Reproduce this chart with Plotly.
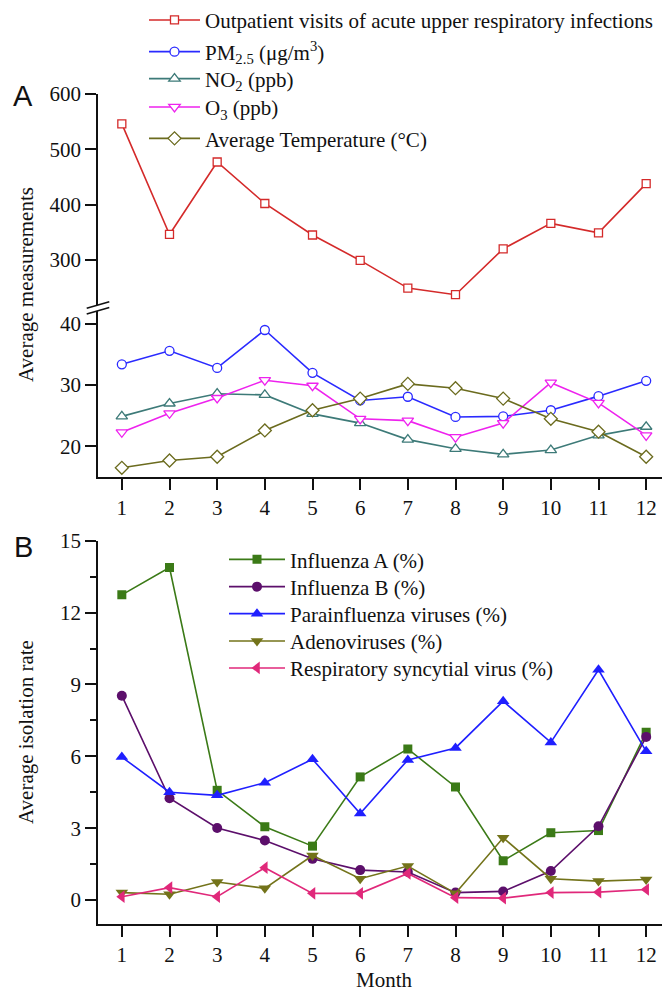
import plotly.graph_objects as go

months = list(range(1, 13))

# Panel A
outpatient = [546, 346, 477, 402, 345, 299, 249, 237, 320, 366, 349, 438]
pm25 = [33.4, 35.6, 32.8, 39.0, 32.0, 27.5, 28.1, 24.8, 24.9, 25.9, 28.2, 30.7]
no2 = [24.9, 27.0, 28.6, 28.4, 25.3, 23.8, 21.1, 19.6, 18.7, 19.4, 21.8, 23.2]
o3 = [22.3, 25.4, 27.9, 30.8, 29.9, 24.5, 24.2, 21.5, 23.8, 30.4, 27.1, 21.8]
temp = [16.5, 17.7, 18.3, 22.6, 25.9, 27.8, 30.2, 29.5, 27.8, 24.5, 22.4, 18.3]

# Panel B
flu_a = [12.74, 13.88, 4.58, 3.06, 2.25, 5.14, 6.31, 4.72, 1.64, 2.81, 2.90, 7.00]
flu_b = [8.53, 4.25, 3.01, 2.49, 1.72, 1.25, 1.17, 0.31, 0.36, 1.21, 3.08, 6.81]
para = [5.97, 4.50, 4.37, 4.90, 5.88, 3.61, 5.85, 6.35, 8.30, 6.58, 9.61, 6.21]
adeno = [0.31, 0.24, 0.75, 0.49, 1.86, 0.89, 1.42, 0.28, 2.60, 0.89, 0.79, 0.86]
rsv = [0.14, 0.52, 0.14, 1.35, 0.28, 0.28, 1.11, 0.10, 0.08, 0.31, 0.33, 0.44]

labels_a = ["Outpatient visits of acute upper respiratory infections",
            "PM<sub>2.5</sub> (μg/m<sup>3</sup>)",
            "NO<sub>2</sub> (ppb)",
            "O<sub>3</sub> (ppb)",
            "Average Temperature (°C)"]
labels_b = ["Influenza A (%)", "Influenza B (%)", "Parainfluenza viruses (%)",
            "Adenoviruses (%)", "Respiratory syncytial virus (%)"]

# page layout helpers (page has an 8px body margin)
OFF = 8.0
H = 992.0
W = 670.0
L = 98.0 - OFF
R = OFF
PW = W - L - R


def py(px):
    return 1 - (px - OFF) / H


def pxx(px):
    return (px - OFF - L) / PW


FONT = "Liberation Serif"
FS = 21
BLACK = "#111111"

fig = go.Figure()

colors_a = ["#d42a2a", "#2a2aff", "#3d7a78", "#ee22ee", "#6b6b1e"]
symbols_a = ["square", "circle", "triangle-up", "triangle-down", "diamond"]
sizes_a = [8, 9, 10, 10, 10]
series_a = [outpatient, pm25, no2, o3, temp]
rows_a = [20.3, 52.0, 79.0, 107.3, 138.7]
for i, (vals, c, s, sz, lab) in enumerate(zip(series_a, colors_a, symbols_a, sizes_a, labels_a)):
    fig.add_trace(go.Scatter(
        x=months, y=vals, mode="lines+markers", name=lab,
        xaxis="x", yaxis="y" if i == 0 else "y2",
        line=dict(color=c, width=1.6),
        marker=dict(symbol=s, size=sz, color="white", line=dict(color=c, width=1.3)),
        legend="legend" if i == 0 else f"legend{i + 1}",
    ))

colors_b = ["#3b7a17", "#5c0f6b", "#1f1fff", "#73731a", "#e0287a"]
symbols_b = ["square", "circle", "triangle-up", "triangle-down", "triangle-left"]
sizes_b = [9, 10, 11, 11, 11]
series_b = [flu_a, flu_b, para, adeno, rsv]
rows_b = [559.7, 587.0, 614.0, 641.3, 668.3]
for j, (vals, c, s, sz, lab) in enumerate(zip(series_b, colors_b, symbols_b, sizes_b, labels_b)):
    fig.add_trace(go.Scatter(
        x=months, y=vals, mode="lines+markers", name=lab,
        xaxis="x2", yaxis="y3",
        line=dict(color=c, width=1.6),
        marker=dict(symbol=s, size=sz, color=c),
        legend=f"legend{j + 6}",
    ))

axis_common = dict(showline=True, linecolor=BLACK, linewidth=1.8, ticks="outside",
                   ticklen=11, tickwidth=1.8, tickcolor=BLACK, showgrid=False,
                   zeroline=False, automargin=False,
                   tickfont=dict(family=FONT, size=FS, color=BLACK))

layout = dict(
    width=670, height=992,
    margin=dict(l=L, r=R, t=0, b=0, autoexpand=False),
    paper_bgcolor="white", plot_bgcolor="white",
    font=dict(family=FONT, size=FS, color=BLACK),
    xaxis=dict(domain=[0, 1], range=[0.5, 12.5], anchor="y2", tickmode="linear",
               tick0=1, dtick=1, **axis_common),
    yaxis=dict(domain=[py(305), py(94)], range=[218.4, 600], anchor="x",
               tickmode="linear", tick0=0, dtick=100, **axis_common),
    yaxis2=dict(domain=[py(477), py(311)], range=[15, 42.1], anchor="x",
                tickmode="linear", tick0=0, dtick=10, **axis_common),
    xaxis2=dict(domain=[0, 1], range=[0.5, 12.5], anchor="y3", tickmode="linear",
                tick0=1, dtick=1, **axis_common),
    yaxis3=dict(domain=[py(924), py(540.7)], range=[-1, 15], anchor="x2",
                tickmode="linear", tick0=0, dtick=3,
                minor=dict(dtick=1.5, ticks="outside", ticklen=6, tickwidth=1.5,
                           tickcolor=BLACK),
                **axis_common),
    showlegend=True,
)

for i, ry in enumerate(rows_a):
    key = "legend" if i == 0 else f"legend{i + 1}"
    layout[key] = dict(x=pxx(144), xanchor="left", y=py(ry), yanchor="middle",
                       bgcolor="rgba(0,0,0,0)", itemwidth=51,
                       font=dict(family=FONT, size=FS, color=BLACK))
for j, ry in enumerate(rows_b):
    layout[f"legend{j + 6}"] = dict(x=pxx(224), xanchor="left", y=py(ry), yanchor="middle",
                                    bgcolor="rgba(0,0,0,0)", itemwidth=56,
                                    font=dict(family=FONT, size=FS, color=BLACK))

fig.update_layout(**layout)

# axis break marks
for y0 in (308.3, 314.0):
    fig.add_shape(type="line", xref="paper", yref="paper",
                  x0=pxx(86.7), x1=pxx(109.3), y0=py(y0), y1=py(y0 - 6.6),
                  line=dict(color=BLACK, width=1.6))

annotations = [
    dict(text="A", x=pxx(23), y=py(96), font=dict(family="Liberation Sans", size=29, color=BLACK)),
    dict(text="B", x=pxx(23), y=py(547), font=dict(family="Liberation Sans", size=29, color=BLACK)),
    dict(text="Average measurements", x=pxx(26), y=py(285), textangle=-90,
         font=dict(family=FONT, size=FS, color=BLACK)),
    dict(text="Average isolation rate", x=pxx(26), y=py(732), textangle=-90,
         font=dict(family=FONT, size=FS, color=BLACK)),
    dict(text="Month", x=pxx(384), y=py(980), font=dict(family=FONT, size=FS, color=BLACK)),
]
for a in annotations:
    fig.add_annotation(xref="paper", yref="paper", showarrow=False,
                       xanchor="center", yanchor="middle", **a)

fig.write_html("out.html")
